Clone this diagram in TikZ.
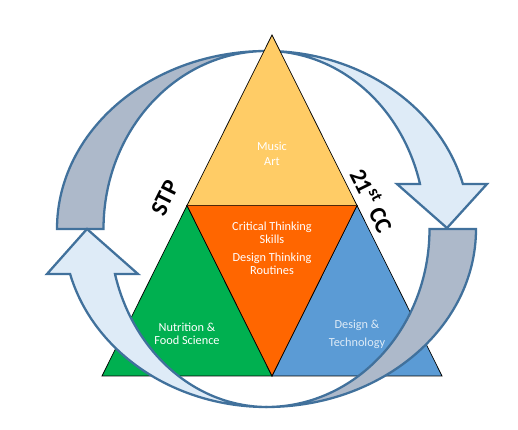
\documentclass[tikz,border=0pt]{standalone}
\usepackage{fontspec}
\setmainfont{Carlito}
\usepackage{xcolor}

\definecolor{artyellow}{RGB}{255,204,102}
\definecolor{thinkorange}{RGB}{255,102,0}
\definecolor{foodgreen}{RGB}{0,176,80}
\definecolor{techblue}{RGB}{91,155,213}
\definecolor{backgray}{RGB}{173,185,202}
\definecolor{frontblue}{RGB}{222,235,247}
\definecolor{edgeblue}{RGB}{65,113,156}
\definecolor{splitbrown}{RGB}{80,40,10}

\begin{document}
\begin{tikzpicture}[
  band/.style={draw=edgeblue,line width=1.3pt,line join=miter},
  lbl/.style={white,font=\fontsize{7}{7.6}\selectfont,align=center},
  side/.style={font=\fontsize{13.5}{14}\selectfont\bfseries}]
\useasboundingbox (0,0) rectangle (10.36,8.6);

% corners of the big triangle
\coordinate (top) at (5.44,7.90);
\coordinate (ml) at (3.74,4.49);
\coordinate (mr) at (7.14,4.49);
\coordinate (bl) at (2.04,1.08);
\coordinate (bm) at (5.44,1.08);
\coordinate (br) at (8.84,1.08);

% upper half of the circular arrows (behind the triangle)
\draw[band,fill=backgray] (5.33,7.58) arc[start angle=90,end angle=180,x radius=4.19,y radius=3.56]
  -- (2.07,4.02) arc[start angle=180,end angle=90,x radius=3.26,y radius=3.56] -- cycle;
\draw[band,fill=frontblue] (5.33,7.58) arc[start angle=90,end angle=14.64,x radius=4.06,y radius=3.56]
  -- (9.74,4.92) -- (8.94,4.04) -- (7.94,4.92) -- (8.40,4.92)
  arc[start angle=14.64,end angle=90,x radius=3.17,y radius=3.56] -- cycle;

% the triangle
\draw[fill=artyellow] (ml) -- (top) -- (mr) -- cycle;
\draw[fill=foodgreen] (bl) -- (ml) -- (bm) -- cycle;
\draw[fill=techblue] (bm) -- (mr) -- (br) -- cycle;
\draw[fill=thinkorange] (ml) -- (mr) -- (bm) -- cycle;
\draw[splitbrown,line width=0.9pt] (ml) -- (mr);

\node[lbl,font=\fontsize{7}{8.5}\selectfont] (music) at (5.44,5.53) {Music\\Art};
\node[lbl] (critical) at (5.44,3.95) {Critical Thinking\\Skills};
\node[lbl] (routines) at (5.44,3.33) {Design Thinking\\Routines};
\node[lbl] (nutrition) at (3.74,1.93) {Nutrition \&\\Food Science};
\node[lbl,text=frontblue,font=\fontsize{7}{10.2}\selectfont] (design) at (7.14,1.92) {Design \&\\Technology};

\node[side,rotate=63.5] (stp) at (3.30,4.64) {STP};
\node[side,rotate=-63.5] (cc) at (7.46,4.60) {21\textsuperscript{st} CC};

% lower half of the circular arrows (in front)
\draw[band,fill=frontblue] (5.33,0.46) arc[start angle=270,end angle=194.64,x radius=4.06,y radius=3.56]
  -- (0.94,3.12) -- (1.74,4.02) -- (2.76,3.12) -- (2.30,3.12)
  arc[start angle=194.64,end angle=270,x radius=3.15,y radius=3.56] -- cycle;
\draw[band,fill=backgray] (5.33,0.46) arc[start angle=270,end angle=360,x radius=4.19,y radius=3.56]
  -- (8.59,4.02) arc[start angle=0,end angle=-90,x radius=3.26,y radius=3.56] -- cycle;

\end{tikzpicture}
\end{document}
